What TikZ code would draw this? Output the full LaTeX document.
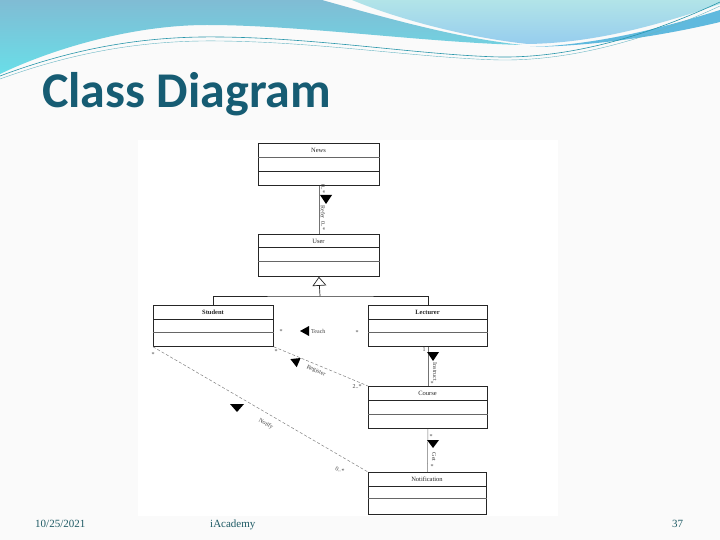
\documentclass[tikz,border=0pt]{standalone}
\usepackage{fontspec}
\setmainfont{Liberation Serif}
\newfontfamily\titlefont{Carlito}
\usetikzlibrary{arrows.meta}
\definecolor{titleteal}{RGB}{22,92,115}
\definecolor{foot}{RGB}{30,90,100}
\definecolor{bluetop}{RGB}{128,188,212}
\definecolor{bluebot}{RGB}{105,222,232}
\definecolor{cyantop}{RGB}{178,228,232}
\definecolor{cyanbot}{RGB}{150,205,238}
\definecolor{swoosh}{RGB}{95,185,222}
\definecolor{thinteal}{RGB}{40,150,170}
\begin{document}
\begin{tikzpicture}[x=1pt,y=-1pt,
  classbox/.style={draw=black!85, line width=0.8pt, inner sep=0pt, anchor=north west, minimum width=121pt, minimum height=42pt},
  cname/.style={font=\fontsize{6.5}{7}\selectfont, inner sep=0pt, text=black!85},
  septhick/.style={draw=black!85, line width=0.9pt},
  septhin/.style={draw=black!60, line width=0.5pt},
  assoc/.style={draw=black!55, line width=0.5pt},
  dashassoc/.style={draw=black!50, line width=0.5pt, densely dashed},
  lbl/.style={font=\fontsize{6}{6}\selectfont, inner sep=0pt, text=black!75},
  navtri/.style={fill=black}
]
\useasboundingbox (0,0) rectangle (720,540);
\fill[white!98!black] (0,0) rectangle (720,540);

% header waves
\shade[top color=bluetop, bottom color=bluebot]
  (0,0) -- (322,0) .. controls (400,22) and (460,38) .. (522,45)
  .. controls (420,42) and (300,25) .. (207,25)
  .. controls (130,25) and (50,50) .. (0,74) -- cycle;
\shade[top color=cyantop, bottom color=cyanbot]
  (352,0) -- (720,0) -- (720,4) .. controls (650,28) and (590,43) .. (528,44)
  .. controls (470,38) and (400,20) .. (352,0) -- cycle;
\fill[swoosh]
  (720,10) .. controls (650,32) and (590,45) .. (530,47)
  .. controls (600,46) and (670,34) .. (720,22) -- cycle;
\draw[thinteal, line width=0.6pt]
  (0,76) .. controls (80,46) and (150,36) .. (220,37)
  .. controls (320,38) and (420,55) .. (500,57)
  .. controls (580,58) and (660,30) .. (720,2);
\draw[thinteal!70, line width=0.4pt]
  (0,79) .. controls (80,50) and (150,40) .. (220,41)
  .. controls (320,42) and (420,58) .. (500,60)
  .. controls (580,61) and (660,34) .. (720,6);

% title
\node[anchor=base west, inner sep=0pt, text=titleteal, font=\titlefont\bfseries\fontsize{50}{56}\selectfont] (title) at (42,108) {Class Diagram};

% diagram area
\fill[white] (138,140) rectangle (558,516);

% classes
\node[classbox] (news) at (258,143) {};
\node[cname] (newsname) at (318.5,150) {News};
\draw[septhin] ([yshift=-14pt]news.north west) -- ([yshift=-14pt]news.north east);
\draw[septhick] ([yshift=-28pt]news.north west) -- ([yshift=-28pt]news.north east);

\node[classbox] (user) at (258,234) {};
\node[cname] (username) at (318.5,241) {User};
\draw[septhick] ([yshift=-13pt]user.north west) -- ([yshift=-13pt]user.north east);
\draw[septhin] ([yshift=-27pt]user.north west) -- ([yshift=-27pt]user.north east);

\node[classbox, minimum width=120pt, minimum height=41pt] (student) at (153,305) {};
\node[cname, font=\bfseries\fontsize{6.5}{7}\selectfont] (studentname) at (213,312) {Student};
\draw[septhick] ([yshift=-14pt]student.north west) -- ([yshift=-14pt]student.north east);
\draw[septhin] ([yshift=-27pt]student.north west) -- ([yshift=-27pt]student.north east);

\node[classbox, minimum width=119pt, minimum height=41pt] (lecturer) at (368,305) {};
\node[cname, font=\bfseries\fontsize{6.5}{7}\selectfont] (lecturername) at (427.5,312) {Lecturer};
\draw[septhick] ([yshift=-14pt]lecturer.north west) -- ([yshift=-14pt]lecturer.north east);
\draw[septhin] ([yshift=-27pt]lecturer.north west) -- ([yshift=-27pt]lecturer.north east);

\node[classbox, minimum width=119pt, minimum height=42pt] (course) at (368,386) {};
\node[cname] (coursename) at (427.5,393) {Course};
\draw[septhick] ([yshift=-14pt]course.north west) -- ([yshift=-14pt]course.north east);
\draw[septhin] ([yshift=-28pt]course.north west) -- ([yshift=-28pt]course.north east);

\node[classbox, minimum width=118pt, minimum height=42pt] (notif) at (368,472) {};
\node[cname] (notifname) at (427,479) {Notification};
\draw[septhick] ([yshift=-14pt]notif.north west) -- ([yshift=-14pt]notif.north east);
\draw[septhin] ([yshift=-26pt]notif.north west) -- ([yshift=-26pt]notif.north east);

% News - User (Refer)
\draw[assoc] (news.south) -- (user.north);
\fill[navtri] (320,195) -- (332,195) -- (326,204) -- cycle;
\node[lbl, rotate=-90] (rm1) at (323,189) {0..*};
\node[lbl, rotate=-90] (rl) at (323,212) {Refer};
\node[lbl, rotate=-90] (rm2) at (323,226) {0..*};

% generalization
\coordinate (gen) at (320,296);
\draw[black!85, line width=0.7pt] (student.north) |- (gen) -| (lecturer.north);
\draw[black!85, line width=0.7pt, -{Triangle[open, length=9pt, width=14pt]}] (gen) -- (user.south);

% Teach
\node[lbl] (tm1) at (281,332) {*};
\fill[navtri] (300,331) -- (309,326) -- (309,336) -- cycle;
\node[lbl, anchor=west] (tl) at (311,331) {Teach};
\node[lbl] (tm2) at (357,333) {*};

% Register
\draw[dashassoc] (student.south east) -- (course.north west);
\node[lbl] (rgm1) at (276,352) {*};
\fill[navtri] (290.4,359.1) -- (300.6,358) -- (296.7,367.2) -- cycle;
\node[lbl, rotate=-22.8] (rgl) at (316,371) {Register};
\node[lbl] (rgm2) at (357,387) {2..*};

% Notify
\draw[dashassoc] (student.south west) -- (notif.north west);
\node[lbl] (nm1) at (153,355) {*};
\fill[navtri] (230,404) -- (244,404) -- (237,412) -- cycle;
\node[lbl, rotate=-30] (nl) at (266,424) {Notify};
\node[lbl, rotate=-15] (nm2) at (340,470) {0..*};

% Instruct
\draw[assoc] (lecturer.south) -- (course.north);
\node[lbl] (im1) at (424,350) {1};
\fill[navtri] (427,352) -- (439,352) -- (433,361) -- cycle;
\node[lbl, rotate=-90] (il) at (435,372) {Instruct};
\node[lbl] (im2) at (432,384) {*};

% Get
\draw[assoc] (course.south) -- (notif.north);
\node[lbl] (gm1) at (431,437) {*};
\fill[navtri] (427,440) -- (439,440) -- (433,448) -- cycle;
\node[lbl, rotate=-90] (gl) at (434,457) {Get};
\node[lbl] (gm2) at (432,467) {*};

% footer
\node[anchor=base west, inner sep=0pt, text=foot, font=\fontsize{11}{13}\selectfont] (date) at (35,527) {10/25/2021};
\node[anchor=base west, inner sep=0pt, text=foot, font=\fontsize{11}{13}\selectfont] (brand) at (210,527) {iAcademy};
\node[anchor=base west, inner sep=0pt, text=foot, font=\fontsize{11}{13}\selectfont] (page) at (672,527) {37};
\end{tikzpicture}
\end{document}
